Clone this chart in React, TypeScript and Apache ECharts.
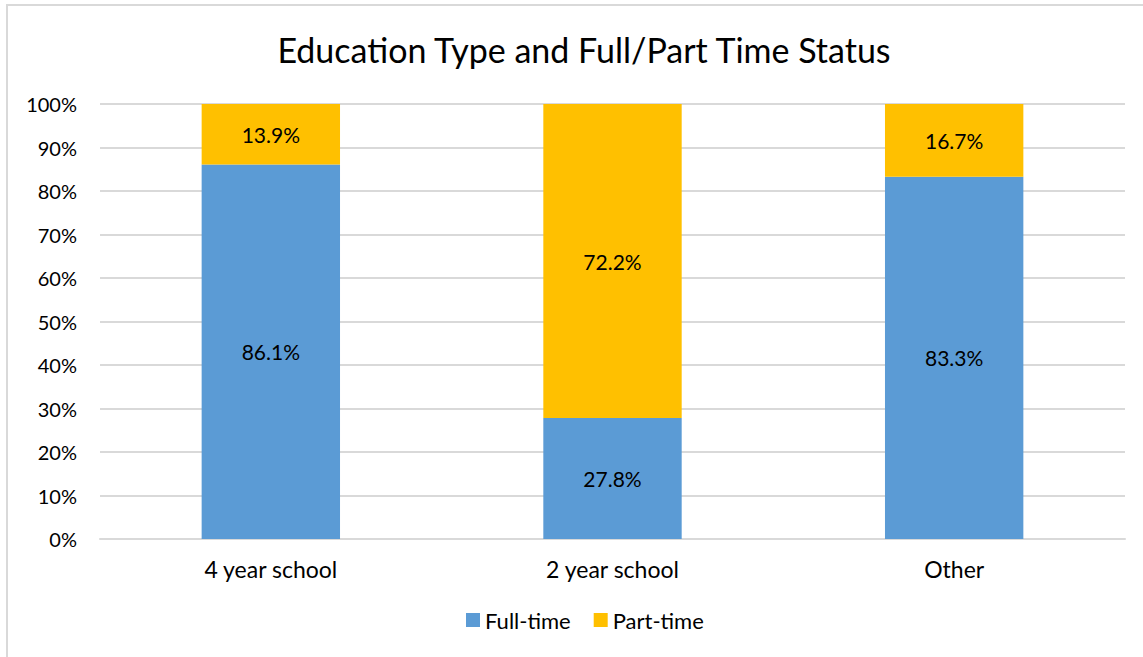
import React, { useEffect, useRef } from "react";
import * as echarts from "echarts";

const categories = ["4 year school", "2 year school", "Other"];
const fullTime = [86.1, 27.8, 83.3];
const partTime = [13.9, 72.2, 16.7];
const yTicks = [0, 10, 20, 30, 40, 50, 60, 70, 80, 90, 100];

const FONT = "Lato, 'Open Sans', sans-serif";

export default function App() {
  const ref = useRef<HTMLDivElement>(null);
  useEffect(() => {
    if (!ref.current) return;
    const chart = echarts.init(ref.current, undefined, { renderer: "svg" });
    chart.setOption({
      animation: false,
      backgroundColor: "#ffffff",
      textStyle: { fontFamily: FONT },
      graphic: [
        {
          type: "rect",
          shape: { x: 7, y: 5, width: 1200, height: 700 },
          style: { fill: "none", stroke: "#d9d9d9", lineWidth: 2 },
          silent: true,
        },
      ],
      title: {
        text: "Education Type and Full/Part Time Status",
        left: 579,
        textAlign: "center",
        top: 27,
        textStyle: { fontFamily: FONT, fontSize: 34, fontWeight: "normal", color: "#000" },
      },
      legend: {
        bottom: 21,
        left: 461,
        itemWidth: 14,
        itemHeight: 14,
        itemGap: 23,
        icon: "rect",
        textStyle: { fontFamily: FONT, fontSize: 22, color: "#000" },
        data: ["Full-time", "Part-time"],
      },
      grid: { left: 100, right: 18, top: 104, bottom: 118, containLabel: false },
      xAxis: {
        type: "category",
        data: categories,
        axisLine: { show: true, lineStyle: { color: "#d9d9d9", width: 2 } },
        axisTick: { show: false },
        axisLabel: { fontFamily: FONT, fontSize: 23, color: "#000", margin: 18 },
      },
      yAxis: {
        type: "value",
        min: yTicks[0],
        max: yTicks[yTicks.length - 1],
        interval: 10,
        axisLine: { show: false },
        axisTick: { show: false },
        splitLine: { lineStyle: { color: "#d9d9d9", width: 2 } },
        axisLabel: {
          fontFamily: FONT,
          fontSize: 20,
          color: "#000",
          margin: 23,
          formatter: (v: number) => `${v}%`,
        },
      },
      series: [
        {
          name: "Full-time",
          type: "bar",
          stack: "total",
          barWidth: "40.5%",
          data: fullTime,
          itemStyle: { color: "#5B9BD5" },
          label: {
            show: true,
            position: "inside",
            fontFamily: FONT,
            fontSize: 21,
            color: "#000",
            formatter: (p: any) => `${p.value.toFixed(1)}%`,
          },
        },
        {
          name: "Part-time",
          type: "bar",
          stack: "total",
          barWidth: "40.5%",
          data: partTime,
          itemStyle: { color: "#FFC000" },
          label: {
            show: true,
            position: "inside",
            fontFamily: FONT,
            fontSize: 21,
            color: "#000",
            formatter: (p: any) => `${p.value.toFixed(1)}%`,
          },
        },
      ],
    });
    return () => chart.dispose();
  }, []);
  return (
    <div
      ref={ref}
      style={{ position: "absolute", left: 0, top: 0, width: 1143, height: 657 }}
    />
  );
}
